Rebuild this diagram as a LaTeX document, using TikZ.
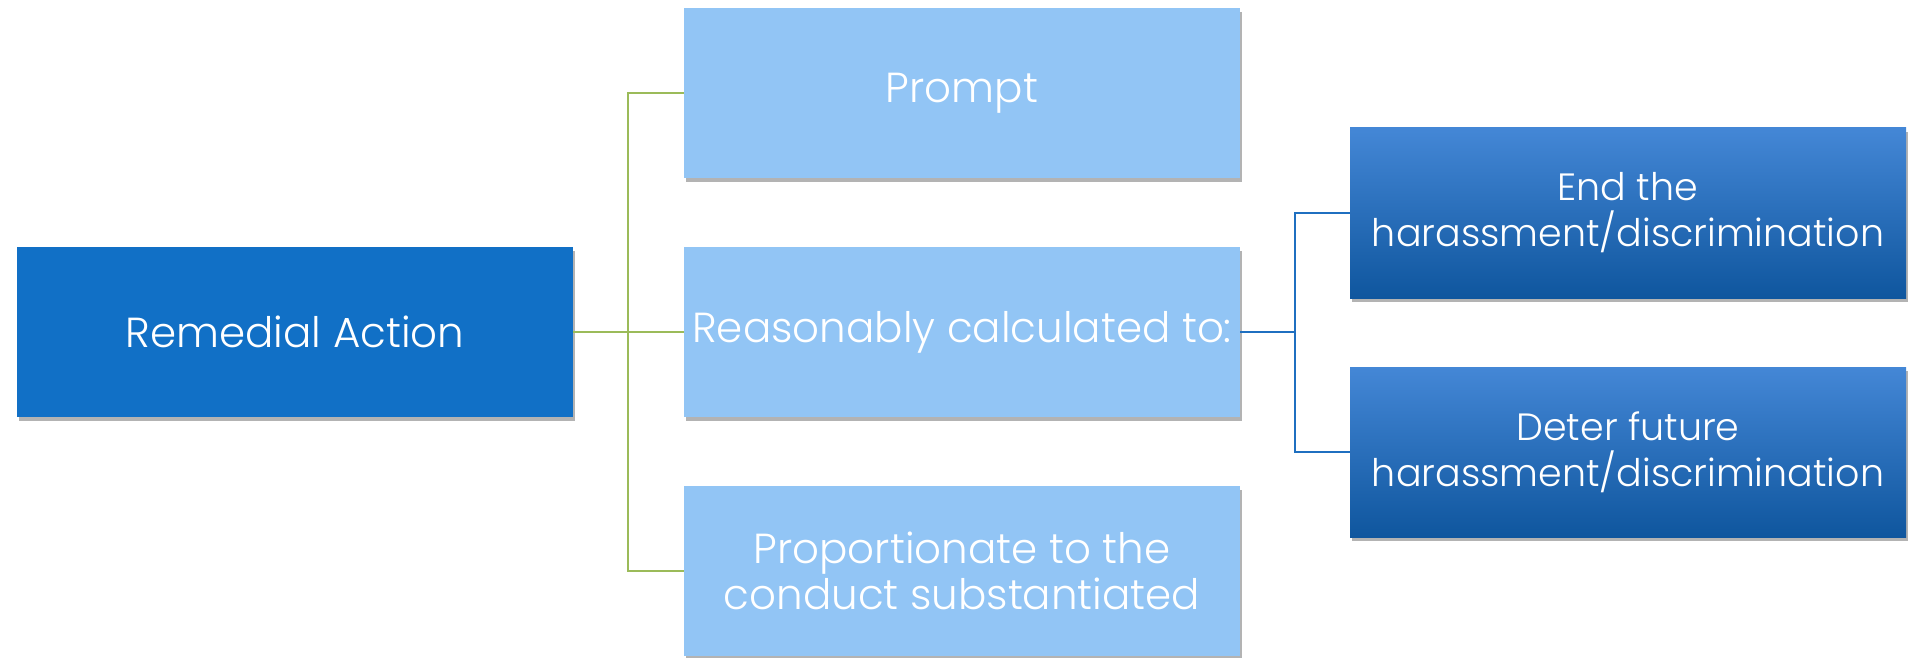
\documentclass[tikz,border=0pt]{standalone}
\usepackage{fontspec}
\setmainfont{Poppins Light}
\usepackage{xcolor}
\usepackage{tikz}
\usetikzlibrary{shadows}

\definecolor{darkblue}{HTML}{1170C6}
\definecolor{lightblue}{HTML}{92C5F5}
\definecolor{gradtop}{HTML}{4487D6}
\definecolor{gradbot}{HTML}{0F569E}
\definecolor{limeline}{HTML}{9BBB59}
\definecolor{blueline}{HTML}{1F6FC0}

\begin{document}
\begin{tikzpicture}[x=1pt, y=-1pt,
    box/.style={rectangle, minimum width=556pt, minimum height=170pt, inner sep=0pt,
      text=white, align=center, font=\fontsize{42}{46}\selectfont,
      drop shadow={shadow xshift=1.5pt, shadow yshift=-4pt, opacity=0.6}},
    root/.style={box, fill=darkblue},
    light/.style={box, fill=lightblue},
    dark/.style={box, top color=gradtop, bottom color=gradbot,
      font=\fontsize{38}{46}\selectfont},
    ]
      \useasboundingbox (0,0) rectangle (1908,658);
      \node[root] (act) at (295,332) {Remedial Action};
      \node[light] (prompt) at (962,93) {Prompt};
      \node[light] (reason) at (962,332) {Reasonably calculated to:};
      \node[light] (prop) at (962,571) {Proportionate to the\\conduct substantiated};
      \node[dark] (end) at (1628,213) {End the\\harassment/discrimination};
      \node[dark] (deter) at (1628,452) {Deter future\\harassment/discrimination};
      \coordinate (fork) at (628,332);
      \coordinate (fork2) at (1295,332);
      \draw[limeline, line width=1.8pt]
        (act.east) -- (reason.west)
        (fork) |- (prompt.west)
        (fork) |- (prop.west);
      \draw[blueline, line width=1.8pt]
        (reason.east) -- (fork2)
        (fork2) |- (end.west)
        (fork2) |- (deter.west);
    \end{tikzpicture}
\end{document}
